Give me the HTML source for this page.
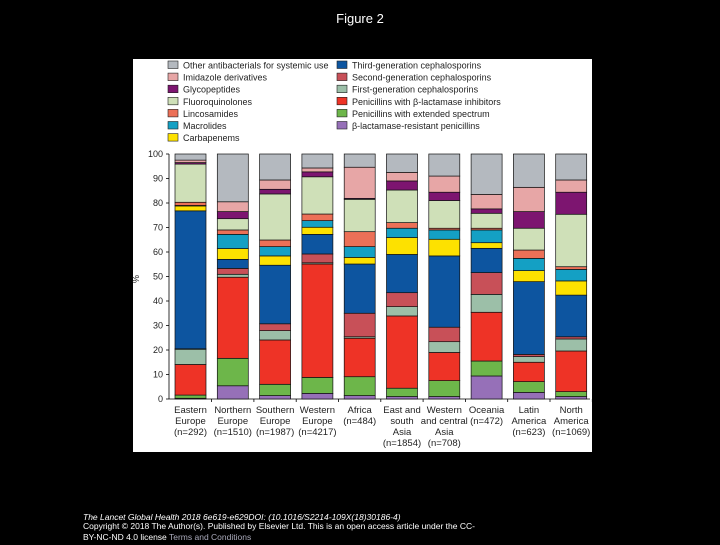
<!DOCTYPE html>
<html><head><meta charset="utf-8"><style>
body{margin:0;background:#000;width:720px;height:540px;overflow:hidden;font-family:"Liberation Sans",sans-serif}
</style></head><body>
<svg width="720" height="540">
<text x="360" y="23" fill="#fff" font-size="13" text-anchor="middle">Figure 2</text>
<rect x="133" y="59" width="459" height="393" fill="#fff"/>
<g id="legend"></g>
<g id="chart"></g>
<text x="83" y="520" fill="#fff" font-size="8.5" font-style="italic">The Lancet Global Health 2018 6e619-e629DOI: (10.1016/S2214-109X(18)30186-4)</text>
<text x="83" y="529" fill="#fff" font-size="8.5">Copyright © 2018 The Author(s). Published by Elsevier Ltd. This is an open access article under the CC-</text>
<text x="83" y="540" fill="#fff" font-size="8.5">BY-NC-ND 4.0 license <tspan fill="#aab" text-decoration="underline">Terms and Conditions</tspan></text>
</svg>
<script>
const categories=[["Eastern","Europe","(n=292)"],["Northern","Europe","(n=1510)"],["Southern","Europe","(n=1987)"],["Western","Europe","(n=4217)"],["Africa","(n=484)"],["East and","south","Asia","(n=1854)"],["Western","and central","Asia","(n=708)"],["Oceania","(n=472)"],["Latin","America","(n=623)"],["North","America","(n=1069)"]];
const seriesNames=["β-lactamase-resistant penicillins","Penicillins with extended spectrum","Penicillins with β-lactamase inhibitors","First-generation cephalosporins","Second-generation cephalosporins","Third-generation cephalosporins","Carbapenems","Macrolides","Lincosamides","Fluoroquinolones","Glycopeptides","Imidazole derivatives","Other antibacterials for systemic use"];
const seriesColors=["#9670b8","#6db64a","#ee3326","#9cbfa8","#c85058","#0d55a0","#fde100","#14a0c4","#ec7057","#cfe0b8","#7d1570","#e7a6a6","#b4b9bf"];
const easternEurope=[0.3,1.3,12.5,6.2,0.2,56.3,2.0,0.2,1.3,15.6,0.6,1.0,2.5];
const northernEurope=[5.4,11.2,33.1,1.2,2.4,3.7,4.4,5.8,1.8,4.6,2.9,4.0,19.5];
const southernEurope=[1.4,4.6,18.1,3.8,2.8,23.9,3.8,3.8,2.7,18.8,1.9,3.8,10.6];
const westernEurope=[2.3,6.5,46.3,0.5,3.6,8,2.9,2.7,2.7,15.2,2,1.6,5.7];
const africa=[1.4,7.7,15.7,0.6,9.6,20.1,2.7,4.4,6.1,13.2,0.4,12.7,5.4];
const eastSouthAsia=[1,3.4,29.5,3.8,5.7,15.6,6.9,3.8,2.3,13.3,3.7,3.5,7.5];
const westCentralAsia=[1,6.5,11.5,4.4,5.9,29.1,6.8,3.8,0.7,11.3,3.4,6.6,9];
const oceania=[9.4,6.1,19.9,7.3,8.9,9.9,2.3,5.2,0.7,6.1,1.8,5.9,16.5];
const latinAmerica=[2.7,4.4,7.9,2.3,0.9,29.7,4.5,5,3.4,8.9,6.8,9.9,13.6];
const northAmerica=[1,2,16.6,4.9,0.9,17,5.8,4.7,1.1,21.4,9,5,10.6];
const barValues=[easternEurope,northernEurope,southernEurope,westernEurope,africa,eastSouthAsia,westCentralAsia,oceania,latinAmerica,northAmerica];
const yTicks=[0,10,20,30,40,50,60,70,80,90,100];

const NS="http://www.w3.org/2000/svg";
function mk(tag,attrs,parent){const e=document.createElementNS(NS,tag);for(const k in attrs)e.setAttribute(k,attrs[k]);parent.appendChild(e);return e;}
const chart=document.getElementById('chart'),legend=document.getElementById('legend');
const y0=399,y100=154;
const yScale=v=>y0-(y0-y100)*v/100;
const x0=175,step=42.3,bw=31;
const xScale=i=>x0+i*step;
const ax=mk('line',{x1:169,y1:yScale(0),x2:169,y2:yScale(100),stroke:'#000','stroke-width':0.8},chart);


const bx=mk('line',{x1:169,y1:y0,x2:590,y2:y0,stroke:'#000','stroke-width':0.8},chart);


yTicks.forEach(t=>{
 const tk=mk('line',{x1:166,x2:169,y1:yScale(t),y2:yScale(t),stroke:'#000','stroke-width':0.8},chart);
 
 
 const tl=mk('text',{x:163,y:yScale(t)+3,'font-size':9,'text-anchor':'end',fill:'#222'},chart);
 
 
 tl.textContent=t;
});
const pl=mk('text',{x:139,y:279,'font-size':9,fill:'#222','text-anchor':'middle',transform:'rotate(-90 139 279)'},chart);


pl.textContent='%';
barValues.forEach((vals,i)=>{
 let cum=0;const x=xScale(i);
 vals.forEach((v,s)=>{
  const r=mk('rect',{x:x,y:yScale(cum+v),width:bw,height:yScale(cum)-yScale(cum+v),fill:seriesColors[s],stroke:'#111','stroke-width':0.7},chart);
  
  
  cum+=v;
 });
 const tk=mk('line',{x1:x+bw+5.6,x2:x+bw+5.6,y1:y0,y2:y0+3,stroke:'#000','stroke-width':0.8},chart);
 
 
 const t=mk('text',{x:x+bw/2,y:413,'font-size':9.5,'text-anchor':'middle',fill:'#222'},chart);
 
 
 categories[i].forEach((ln,k)=>{const ts=mk('tspan',{x:x+bw/2,dy:k?11:0},t);ts.textContent=ln;});
});
const legendOrder=[12,11,10,9,8,7,6,5,4,3,2,1,0];
legendOrder.forEach((s,k)=>{
 const col=k<7?0:1,row=k<7?k:k-7;
 const lx=col?337:168,ly=61+row*12.1;
 const r=mk('rect',{x:lx,y:ly,width:10,height:7.5,fill:seriesColors[s],stroke:'#222','stroke-width':0.6},legend);
 
 
 const t=mk('text',{x:lx+15,y:ly+7.5,'font-size':9,fill:'#222'},legend);
 
 
 t.textContent=seriesNames[s];
});
</script>
</body></html>
